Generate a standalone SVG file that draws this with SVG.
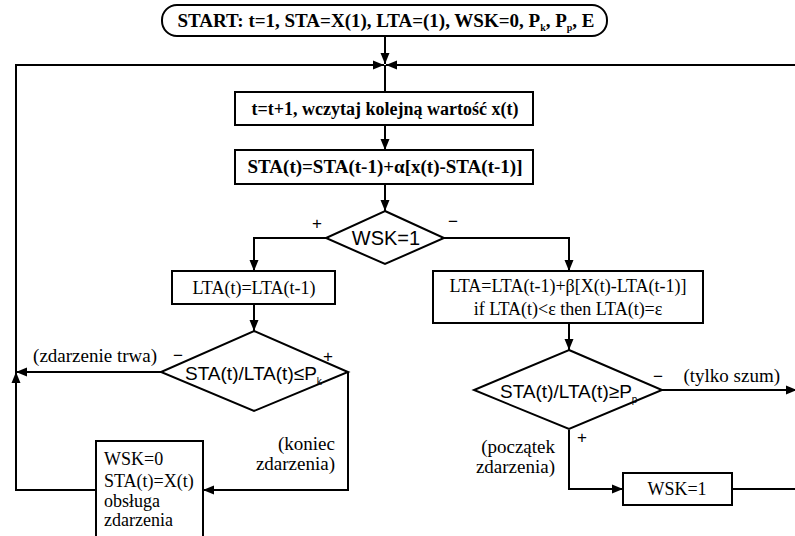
<svg xmlns="http://www.w3.org/2000/svg" width="795" height="536" viewBox="0 0 795 536">
<style>
.box{fill:#fff;stroke:#000;stroke-width:2}
.ln{fill:none;stroke:#000;stroke-width:2}
.sf{font-family:"Liberation Serif","Times New Roman",serif;font-size:18px;fill:#000}
.lb{font-family:"Liberation Serif","Times New Roman",serif;font-size:19px;fill:#000}
.bf{font-family:"Liberation Serif","Times New Roman",serif;font-size:19px;font-weight:bold;fill:#000}
.ss{font-family:"Liberation Sans",Arial,sans-serif;fill:#000}
.sub{font-size:10px}
</style>
<defs>
<marker id="ar" markerUnits="userSpaceOnUse" markerWidth="12" markerHeight="10" refX="11" refY="5" orient="auto">
<path d="M0,0.5 L11,5 L0,9.5 z" fill="#000"/>
</marker>
</defs>
<g id="connectors">
<line class="ln" x1="385" y1="36" x2="385" y2="64" marker-end="url(#ar)"/>
<line class="ln" x1="385" y1="65" x2="385" y2="92"/>
<polyline class="ln" points="16,372 16,65 384,65" marker-end="url(#ar)"/>
<polyline class="ln" points="732,489 802,489 802,65 386,65" marker-end="url(#ar)"/>
<line class="ln" x1="385" y1="125" x2="385" y2="150" marker-end="url(#ar)"/>
<line class="ln" x1="385" y1="184" x2="385" y2="211" marker-end="url(#ar)"/>
<polyline class="ln" points="326,238 254,238 254,271" marker-end="url(#ar)"/>
<polyline class="ln" points="444,238 569,238 569,271" marker-end="url(#ar)"/>
<line class="ln" x1="254" y1="304" x2="254" y2="331" marker-end="url(#ar)"/>
<line class="ln" x1="569" y1="323" x2="569" y2="350" marker-end="url(#ar)"/>
<line class="ln" x1="161" y1="372" x2="16" y2="372" marker-end="url(#ar)"/>
<polyline class="ln" points="96,490 16,490 16,372" marker-end="url(#ar)"/>
<polyline class="ln" points="348,372 348,490 203,490" marker-end="url(#ar)"/>
<line class="ln" x1="662" y1="390" x2="797" y2="390" marker-end="url(#ar)"/>
<polyline class="ln" points="569,430 569,489 623,489" marker-end="url(#ar)"/>
<text class="ss" x="317" y="229" font-size="17" text-anchor="middle">+</text>
<text class="ss" x="453" y="227" font-size="17" text-anchor="middle">−</text>
<text class="ss" x="178" y="361" font-size="17" text-anchor="middle">−</text>
<text class="ss" x="328" y="362" font-size="17" text-anchor="middle">+</text>
<text class="ss" x="658" y="382" font-size="17" text-anchor="middle">−</text>
<text class="ss" x="582" y="443" font-size="17" text-anchor="middle">+</text>
<text class="lb" x="157" y="362" text-anchor="end">(zdarzenie trwa)</text>
<text class="lb" x="335" y="450" text-anchor="end">(koniec</text>
<text class="lb" x="335" y="470" text-anchor="end">zdarzenia)</text>
<text class="lb" x="780" y="382" text-anchor="end">(tylko szum)</text>
<text class="lb" x="555" y="453" text-anchor="end">(początek</text>
<text class="lb" x="555" y="473" text-anchor="end">zdarzenia)</text>
</g>
<g id="start">
<rect class="box" x="162" y="5" width="445" height="31" rx="15" ry="15"/>
<text class="bf" x="386" y="27" text-anchor="middle">START: t=1, STA=X(1), LTA=(1), WSK=0, P<tspan class="sub" dy="4">k</tspan><tspan dy="-4">, P</tspan><tspan class="sub" dy="4">p</tspan><tspan dy="-4">, E</tspan></text>
</g>
<g id="read">
<rect class="box" x="235" y="92" width="298" height="33"/>
<text class="bf" x="385" y="115" text-anchor="middle" style="font-size:18px">t=t+1, wczytaj kolejną wartość x(t)</text>
</g>
<g id="sta">
<rect class="box" x="235" y="150" width="298" height="34"/>
<text class="bf" x="385" y="173" text-anchor="middle">STA(t)=STA(t-1)+α[x(t)-STA(t-1)]</text>
</g>
<g id="wsk1cond">
<polygon class="box" points="385,211 444,238 385,264 326,238"/>
<text class="ss" x="386" y="245" font-size="20" text-anchor="middle">WSK=1</text>
</g>
<g id="ltaconst">
<rect class="box" x="172" y="271" width="163" height="33"/>
<text class="sf" x="254" y="294" text-anchor="middle">LTA(t)=LTA(t-1)</text>
</g>
<g id="ltaupdate">
<rect class="box" x="433" y="271" width="270" height="52"/>
<text class="sf" x="568" y="292" text-anchor="middle">LTA=LTA(t-1)+β[X(t)-LTA(t-1)]</text>
<text class="sf" x="568" y="315" text-anchor="middle">if LTA(t)&lt;ε then LTA(t)=ε</text>
</g>
<g id="condk">
<polygon class="box" points="254,331 348,372 254,411 161,372"/>
<text class="ss" x="185" y="380" font-size="19">STA(t)/LTA(t)≤P<tspan class="sub" dy="5">k</tspan></text>
</g>
<g id="condp">
<polygon class="box" points="569,350 662,390 569,429 474,390"/>
<text class="ss" x="500" y="398" font-size="19">STA(t)/LTA(t)≥P<tspan class="sub" dy="5">p</tspan></text>
</g>
<g id="wsk0">
<rect class="box" x="96" y="441" width="107" height="100"/>
<text class="sf" x="104" y="465">WSK=0</text>
<text class="sf" x="104" y="487">STA(t)=X(t)</text>
<text class="sf" x="104" y="507">obsługa</text>
<text class="sf" x="104" y="526">zdarzenia</text>
</g>
<g id="wsk1set">
<rect class="box" x="623" y="473" width="109" height="32"/>
<text class="sf" x="677" y="495" text-anchor="middle">WSK=1</text>
</g>
</svg>
